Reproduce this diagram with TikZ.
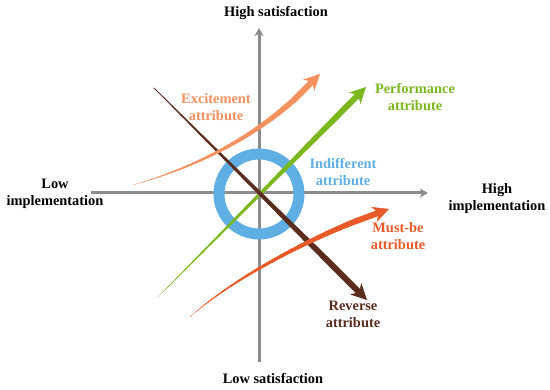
\documentclass[tikz,border=0pt]{standalone}
\usepackage{fontspec}
\setmainfont{Liberation Serif}
\usetikzlibrary{arrows.meta}
\definecolor{axisgrey}{HTML}{8C8C8C}
\definecolor{excite}{HTML}{F5915F}
\definecolor{perform}{HTML}{7AB81E}
\definecolor{indiff}{HTML}{5FAFE4}
\definecolor{mustbe}{HTML}{E85A28}
\definecolor{reverse}{HTML}{5A2D1E}
\tikzstyle{axis} = [line width=3pt, draw=axisgrey, -{Stealth[length=8pt, width=9pt, inset=2pt]}]
\tikzstyle{head} = [-{Stealth[length=16pt, width=16pt, inset=5pt, line width=0.5pt]}]

\begin{document}
\begin{tikzpicture}[
        x=1pt, y=-1pt,
        lbl/.style={align=center, inner sep=0pt, font=\bfseries\fontsize{14.4}{17}\selectfont},
        shaft/.style={line cap=round}
        ]
        \useasboundingbox (0,0) rectangle (550,390);

        % axes
        \coordinate (west) at (91,193);
        \coordinate (east) at (428,193);
        \coordinate (south) at (259,362);
        \coordinate (north) at (259,28);
        \draw[axis] (west) -- (east);
        \draw[axis] (south) -- (north);

        \node[lbl] (highsat) at (276,13) {High satisfaction};
        \node[lbl] (lowsat) at (273,379) {Low satisfaction};
        \node[lbl] (lowimp) at (55,194) {Low\\implementation};
        \node[lbl] (highimp) at (497,199) {High\\implementation};

        % indifferent ring
        \node[circle, draw=indiff, line width=11pt, minimum size=80pt, inner sep=0pt] (ring) at (259,194) {};

        % performance
        \foreach \i [evaluate=\i as \t using \i/24] in {0,...,24}
            \path (158,297) -- (366,87) coordinate[pos=\t] (perf\i);
        \foreach \i [evaluate=\i as \j using int(\i+1), evaluate=\i as \w using 0.3+0.28*\i] in {0,...,19}
            \draw[shaft, perform, line width=\w pt] (perf\i) -- (perf\j);
        \draw[perform, line width=6pt, head] (perf20) -- (perf24);

        % reverse
        \foreach \i [evaluate=\i as \t using \i/24] in {0,...,24}
            \path (154,88) -- (367,300) coordinate[pos=\t] (rev\i);
        \foreach \i [evaluate=\i as \j using int(\i+1), evaluate=\i as \w using 0.8+0.27*\i] in {0,...,19}
            \draw[shaft, reverse, line width=\w pt] (rev\i) -- (rev\j);
        \draw[reverse, line width=6pt, head] (rev20) -- (rev24);

        % excitement
        \foreach \i [evaluate=\i as \t using \i/24] in {0,...,24}
            \path (133,185) .. controls (200,166) and (268,132) .. (320,74) coordinate[pos=\t] (exc\i);
        \foreach \i [evaluate=\i as \j using int(\i+1), evaluate=\i as \w using 0.3+0.28*\i] in {0,...,19}
            \draw[shaft, excite, line width=\w pt] (exc\i) -- (exc\j);
        \draw[excite, line width=6pt, head] (exc20) -- (exc24);

        % must-be
        \foreach \i [evaluate=\i as \t using \i/24] in {0,...,24}
            \path (190,317) .. controls (234,277) and (322,231) .. (389,209) coordinate[pos=\t] (must\i);
        \foreach \i [evaluate=\i as \j using int(\i+1), evaluate=\i as \w using 0.3+0.28*\i] in {0,...,19}
            \draw[shaft, mustbe, line width=\w pt] (must\i) -- (must\j);
        \draw[mustbe, line width=6pt, head] (must20) -- (must24);

        \node[lbl, text=excite] (exclbl) at (216,107) {Excitement\\attribute};
        \node[lbl, text=perform] (perflbl) at (415,97) {Performance\\attribute};
        \node[lbl, text=indiff] (indlbl) at (343,172) {Indifferent\\attribute};
        \node[lbl, text=mustbe] (mustlbl) at (398,236) {Must-be\\attribute};
        \node[lbl, text=reverse] (revlbl) at (353,314) {Reverse\\attribute};

    \end{tikzpicture}
\end{document}
